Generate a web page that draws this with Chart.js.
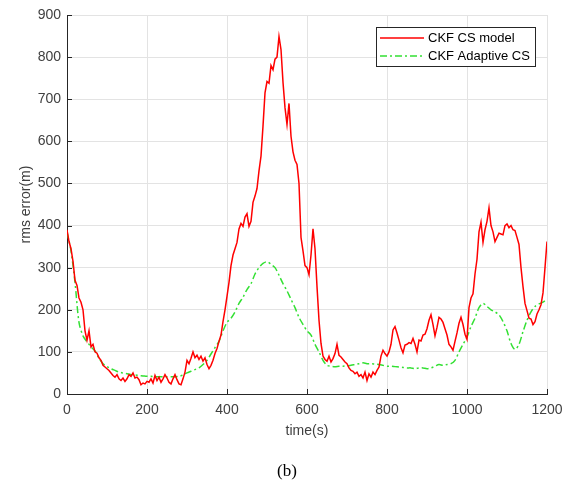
<!DOCTYPE html>
<html>
<head>
<meta charset="utf-8">
<title>rms error</title>
<script src="https://cdn.jsdelivr.net/npm/chart.js@4.4.1/dist/chart.umd.min.js"></script>
<style>
  html, body { margin: 0; padding: 0; background: #ffffff; }
  #wrap { position: relative; width: 574px; height: 483px; }
  #caption {
    position: absolute; left: 0; top: 461px; width: 574px;
    text-align: center; font: 17px "Liberation Serif", "Times New Roman", serif;
    line-height: 20px; color: #000;
  }
</style>
</head>
<body>
<div id="wrap">
  <canvas id="rmsChart" width="574" height="483"></canvas>
  <div id="caption">(b)</div>
</div>
<script>
// sample spacing of the two runs (seconds)
const redStep = 5;
const greenStep = 10;

// CKF with the plain CS model, rms error every 5 s
const csModel = [
  390, 362, 345, 315, 270, 258, 228, 218, 200, 150, 128, 150, 112, 118, 100, 97, 86, 80, 68, 64,
  60, 56, 50, 44, 40, 46, 36, 32, 38, 30, 36, 46, 42, 50, 38, 40, 34, 22, 26, 24,
  30, 28, 36, 26, 44, 32, 40, 28, 36, 46, 38, 28, 24, 36, 46, 34, 24, 22, 36, 52,
  80, 72, 85, 100, 86, 92, 82, 90, 78, 86, 70, 60, 68, 80, 96, 108, 125, 140, 172, 200,
  232, 265, 305, 330, 345, 360, 392, 405, 398, 420, 428, 398, 410, 455, 470, 488, 530, 565, 636, 715,
  742, 738, 780, 770, 795, 800, 849, 818, 740, 680, 640, 690, 612, 575, 555, 545, 500, 372, 340, 305,
  300, 283, 330, 392, 345, 255, 175, 120, 90, 82, 78, 90, 76, 84, 96, 118, 92, 88, 82, 76,
  72, 62, 56, 54, 48, 52, 42, 46, 38, 52, 32, 48, 40, 52, 46, 56, 64, 90, 104, 96,
  90, 100, 118, 152, 160, 145, 128, 110, 98, 116, 118, 122, 120, 132, 118, 100, 128, 126, 140, 142,
  155, 175, 188, 165, 138, 158, 182, 178, 170, 155, 140, 118, 112, 104, 125, 145, 168, 182, 165, 142,
  130, 205, 228, 238, 285, 320, 385, 408, 360, 390, 410, 442, 400, 385, 362, 372, 382, 380, 378, 400,
  404, 395, 400, 390, 388, 372, 355, 300, 255, 215, 198, 180, 178, 165, 172, 190, 200, 212, 240, 300,
  362
];

// CKF with the adaptive CS model, rms error every 10 s
const adaptiveCs = [
  385, 340, 265, 170, 138, 124, 112, 102, 85, 72, 65, 60, 56, 52, 50, 48, 46, 45, 44, 43,
  42, 42, 41, 41, 41, 41, 41, 41, 42, 45, 50, 54, 58, 62, 70, 80, 95, 110, 125, 150,
  170, 180, 195, 215, 230, 248, 262, 285, 300, 310, 314, 308, 300, 282, 262, 245, 225, 205, 182, 165,
  150, 140, 118, 100, 80, 68, 66, 65, 66, 66, 67, 68, 70, 72, 74, 72, 72, 71, 70, 68,
  66, 66, 65, 64, 63, 62, 62, 60, 62, 62, 60, 62, 66, 70, 68, 70, 72, 80, 100, 118,
  135, 160, 180, 205, 215, 208, 200, 195, 188, 172, 150, 120, 106, 118, 148, 175, 195, 208, 214, 218,
  225
];

const seriesLabels = ['CKF CS model', 'CKF Adaptive CS'];
const xTicks = [0, 200, 400, 600, 800, 1000, 1200];
const yTicks = [0, 100, 200, 300, 400, 500, 600, 700, 800, 900];

const tickFont = { family: 'Arial, "Liberation Sans", sans-serif', size: 14 };
const textColor = '#404040';
const axisColor = '#262626';
const gridColor = '#e3e3e3';

// MATLAB style: short tick marks pointing into the plot
const innerTicks = {
  id: 'innerTicks',
  afterDatasetsDraw(chart) {
    const { ctx, chartArea, scales } = chart;
    ctx.save();
    ctx.strokeStyle = axisColor;
    ctx.lineWidth = 1;
    ctx.beginPath();
    xTicks.forEach(v => {
      const x = Math.round(scales.x.getPixelForValue(v)) + 0.5;
      ctx.moveTo(x, chartArea.bottom);
      ctx.lineTo(x, chartArea.bottom - 5);
    });
    yTicks.forEach(v => {
      const y = Math.round(scales.y.getPixelForValue(v)) + 0.5;
      ctx.moveTo(chartArea.left, y);
      ctx.lineTo(chartArea.left + 5, y);
    });
    ctx.stroke();
    ctx.restore();
  }
};

// boxed legend in the upper right corner of the plot
const boxLegend = {
  id: 'boxLegend',
  afterDraw(chart) {
    const { ctx } = chart;
    const left = 376, top = 27, width = 159, height = 39;
    ctx.save();
    ctx.fillStyle = '#ffffff';
    ctx.fillRect(left, top, width, height);
    ctx.strokeStyle = axisColor;
    ctx.lineWidth = 1;
    ctx.strokeRect(left + 0.5, top + 0.5, width, height);
    ctx.font = '13px Arial, "Liberation Sans", sans-serif';
    ctx.textBaseline = 'middle';
    chart.data.datasets.forEach((ds, i) => {
      const y = top + 11 + i * 18;
      ctx.strokeStyle = ds.borderColor;
      ctx.lineWidth = ds.borderWidth;
      ctx.setLineDash(ds.borderDash || []);
      ctx.beginPath();
      ctx.moveTo(left + 4, y);
      ctx.lineTo(left + 48, y);
      ctx.stroke();
      ctx.setLineDash([]);
      ctx.fillStyle = '#000000';
      ctx.fillText(ds.label, left + 52, y);
    });
    ctx.restore();
  }
};

const ctx = document.getElementById('rmsChart').getContext('2d');
new Chart(ctx, {
  type: 'line',
  data: {
    datasets: [{
      label: seriesLabels[0],
      data: csModel.map((v, i) => ({ x: i * redStep, y: v })),
      borderColor: '#ff0000',
      borderWidth: 1.5,
      pointRadius: 0,
      tension: 0
    }, {
      label: seriesLabels[1],
      data: adaptiveCs.map((v, i) => ({ x: i * greenStep, y: v })),
      borderColor: '#33e033',
      borderWidth: 1.5,
      borderDash: [7, 3, 2, 3],
      pointRadius: 0,
      tension: 0.3
    }]
  },
  options: {
    responsive: false,
    animation: false,
    layout: { padding: { left: 0, top: 15, right: 27, bottom: 39 } },
    plugins: {
      legend: { display: false },
      tooltip: { enabled: false }
    },
    scales: {
      x: {
        type: 'linear',
        min: 0,
        max: 1200,
        afterFit: scale => { scale.height = 50; },
        afterBuildTicks: scale => { scale.ticks = xTicks.map(v => ({ value: v })); },
        ticks: { color: textColor, font: tickFont, padding: 8, maxRotation: 0, callback: v => String(v) },
        grid: { color: gridColor, drawTicks: false },
        border: { color: axisColor, width: 1 },
        title: { display: true, text: 'time(s)', color: textColor, font: tickFont, padding: { top: 0, bottom: 4 } }
      },
      y: {
        min: 0,
        max: 900,
        afterFit: scale => { scale.width = 67; },
        afterBuildTicks: scale => { scale.ticks = yTicks.map(v => ({ value: v })); },
        ticks: { color: textColor, font: tickFont, padding: 6, callback: v => String(v) },
        grid: { color: gridColor, drawTicks: false },
        border: { color: axisColor, width: 1 },
        title: { display: true, text: 'rms error(m)', color: textColor, font: tickFont, padding: { top: 18, bottom: 0 } }
      }
    }
  },
  plugins: [innerTicks, boxLegend]
});
</script>
</body>
</html>
